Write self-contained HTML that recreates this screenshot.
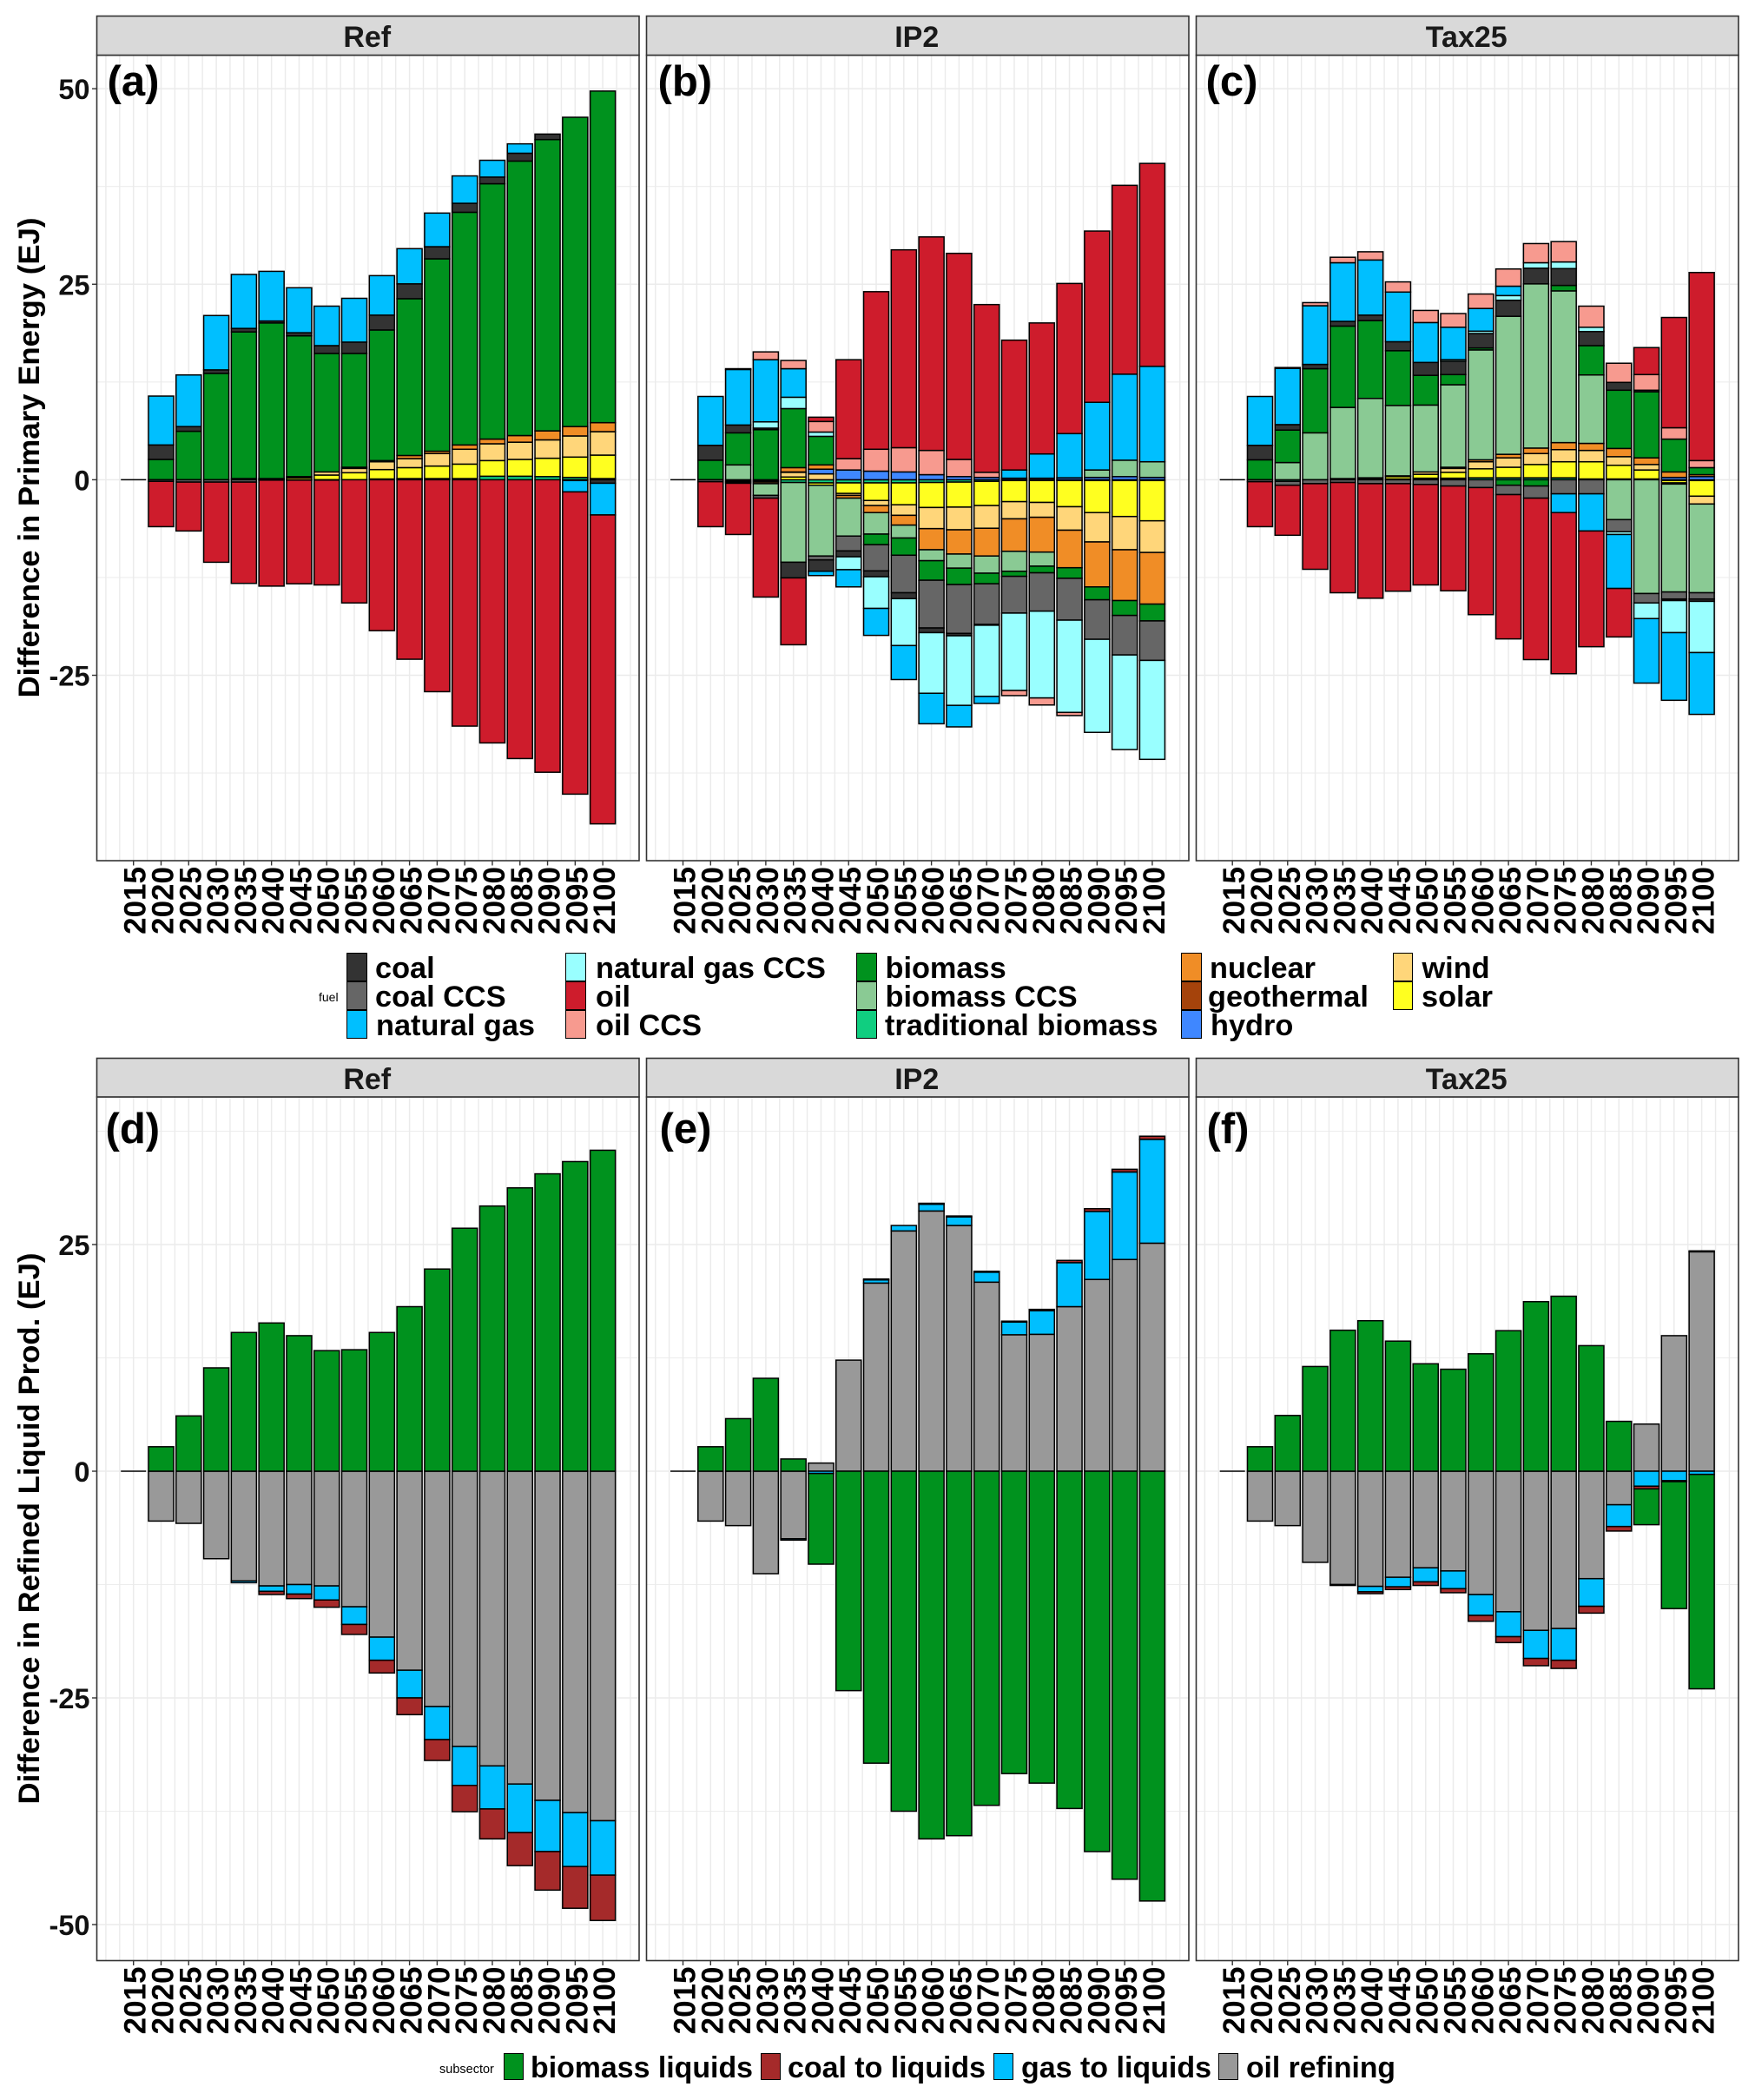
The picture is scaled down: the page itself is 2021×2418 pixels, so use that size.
<!DOCTYPE html>
<html lang="en">
<head>
<meta charset="utf-8">
<title>Difference in Primary Energy and Refined Liquid Production</title>
<style>
html,body{margin:0;padding:0;background:#fff;}
svg{display:block;font-family:"Liberation Sans",Arial,sans-serif;}
text{font-weight:700;fill:#000;}
</style>
</head>
<body>
<svg id="chart" xmlns="http://www.w3.org/2000/svg" width="2021" height="2418" viewBox="0 0 2021 2418">
<rect x="0" y="0" width="2021" height="2418" fill="#ffffff"/>
<g id="plots"></g>
<text transform="translate(45,527) rotate(-90)" text-anchor="middle" font-size="34" textLength="553" lengthAdjust="spacingAndGlyphs">Difference in Primary Energy (EJ)</text>
<text transform="translate(45,1760) rotate(-90)" text-anchor="middle" font-size="34" textLength="635" lengthAdjust="spacingAndGlyphs">Difference in Refined Liquid Prod. (EJ)</text>

<g>
<text x="367" y="1153" font-size="14" style="font-weight:400">fuel</text>
<g><rect x="399.5" y="1097.5" width="23" height="32" fill="#333333" stroke="#000" stroke-width="1"/><text x="432" y="1126" font-size="34.3">coal</text></g>
<g><rect x="399.5" y="1130.5" width="23" height="32" fill="#666666" stroke="#000" stroke-width="1"/><text x="432" y="1159" font-size="34.3">coal CCS</text></g>
<g><rect x="399.5" y="1163.5" width="23" height="32" fill="#00BFFF" stroke="#000" stroke-width="1"/><text x="433" y="1192" font-size="34.3">natural gas</text></g>
<g><rect x="651.5" y="1097.5" width="23" height="32" fill="#99FFFF" stroke="#000" stroke-width="1"/><text x="686" y="1126" font-size="34.3">natural gas CCS</text></g>
<g><rect x="651.5" y="1130.5" width="23" height="32" fill="#CE1C2C" stroke="#000" stroke-width="1"/><text x="686" y="1159" font-size="34.3">oil</text></g>
<g><rect x="651.5" y="1163.5" width="23" height="32" fill="#F79A8F" stroke="#000" stroke-width="1"/><text x="686" y="1192" font-size="34.3">oil CCS</text></g>
<g><rect x="986.5" y="1097.5" width="23" height="32" fill="#00921E" stroke="#000" stroke-width="1"/><text x="1019.5" y="1126" font-size="34.3">biomass</text></g>
<g><rect x="986.5" y="1130.5" width="23" height="32" fill="#8ACA94" stroke="#000" stroke-width="1"/><text x="1019.5" y="1159" font-size="34.3">biomass CCS</text></g>
<g><rect x="986.5" y="1163.5" width="23" height="32" fill="#10CE80" stroke="#000" stroke-width="1"/><text x="1019" y="1192" font-size="34.3">traditional biomass</text></g>
<g><rect x="1360.5" y="1097.5" width="23" height="32" fill="#F08D26" stroke="#000" stroke-width="1"/><text x="1393" y="1126" font-size="34.3">nuclear</text></g>
<g><rect x="1360.5" y="1130.5" width="23" height="32" fill="#A5430B" stroke="#000" stroke-width="1"/><text x="1391" y="1159" font-size="34.3">geothermal</text></g>
<g><rect x="1360.5" y="1163.5" width="23" height="32" fill="#3F87FF" stroke="#000" stroke-width="1"/><text x="1394" y="1192" font-size="34.3">hydro</text></g>
<g><rect x="1604.5" y="1097.5" width="22" height="32" fill="#FFD67A" stroke="#000" stroke-width="1"/><text x="1637.5" y="1126" font-size="34.3">wind</text></g>
<g><rect x="1604.5" y="1130.5" width="22" height="32" fill="#FFFF20" stroke="#000" stroke-width="1"/><text x="1637" y="1159" font-size="34.3">solar</text></g>
</g>

<g>
<text x="506" y="2387" font-size="14.5" style="font-weight:400">subsector</text>
<g><rect x="580.5" y="2364.5" width="22" height="30" fill="#00921E" stroke="#000" stroke-width="1"/><text x="611" y="2392" font-size="34" textLength="256" lengthAdjust="spacingAndGlyphs">biomass liquids</text></g>
<g><rect x="876.5" y="2364.5" width="22" height="30" fill="#A52A2A" stroke="#000" stroke-width="1"/><text x="907" y="2392" font-size="34" textLength="228" lengthAdjust="spacingAndGlyphs">coal to liquids</text></g>
<g><rect x="1144.5" y="2364.5" width="22" height="30" fill="#00BFFF" stroke="#000" stroke-width="1"/><text x="1176" y="2392" font-size="34" textLength="219" lengthAdjust="spacingAndGlyphs">gas to liquids</text></g>
<g><rect x="1403.5" y="2364.5" width="22" height="30" fill="#999999" stroke="#000" stroke-width="1"/><text x="1435" y="2392" font-size="34" textLength="172" lengthAdjust="spacingAndGlyphs">oil refining</text></g>
</g>
</svg>

<script>
// Categories and tick labels
const years = [2015,2020,2025,2030,2035,2040,2045,2050,2055,2060,2065,2070,2075,2080,2085,2090,2095,2100];
const topTicks = [50,25,0,-25];
const topMinorTicks = [37.5,12.5,-12.5,-37.5];
const bottomTicks = [25,0,-25,-50];
const bottomMinorTicks = [37.5,12.5,-12.5,-37.5];

// (a) Ref primary energy, EJ: one value per year in `years`
const refTrad =    [0,0,0,0,0,0,0,0,0,.1,.15,.15,.15,.45,.45,.4,.3,.15];
const refSolar =   [0,0,0,0,.15,.1,.25,.6,.9,1.2,1.4,1.6,1.85,2,2.15,2.35,2.6,3];
const refWind =    [0,0,0,0,0,.05,.15,.4,.55,1,1.15,1.6,1.9,2.15,2.2,2.35,2.7,3];
const refNuclear = [0,0,0,0,0,0,0,0,.15,.15,.4,.3,.55,.6,.85,1.15,1.2,1.15];
const refBiomass = [0,2.6,6.2,13.6,18.75,19.9,18,15.15,14.55,16.7,20.05,24.6,29.75,32.65,35.1,37.25,39.55,42.4];
const refCoalCcs = [0,-.2,-.3,-.3,-.3,-.05,-.05,-.05,0,0,0,0,0,0,0,0,-.1,0];
const refCoal =    [0,1.85,.6,.45,.45,.25,.4,1,1.45,1.9,1.9,1.55,1.15,.85,1,.7,0,-.45];
const refGas =     [0,6.25,6.6,6.95,6.9,6.35,5.75,5.05,5.6,5.05,4.5,4.3,3.5,2.15,1.2,0,-1.45,-4.05];
const refOil =     [0,-5.8,-6.25,-10.25,-12.95,-13.55,-13.25,-13.4,-15.75,-19.3,-22.95,-27.1,-31.5,-33.65,-35.65,-37.4,-38.65,-39.5];

// (b) IP2 primary energy, EJ
const ip2Trad =    [0,0,-.15,-.1,-.35,-.4,-.4,-.4,-.4,-.35,-.3,-.2,-.1,-.1,-.1,-.1,-.1,-.1];
const ip2Solar =   [0,0,-.1,-.1,.35,-.3,-1.35,-2.25,-2.8,-3.2,-3.2,-3.1,-2.7,-2.8,-3.35,-4.1,-4.6,-5.15];
const ip2Wind =    [0,0,-.1,-.1,.6,.75,-.25,-.65,-1.35,-2.7,-2.9,-2.9,-2.2,-1.9,-3,-3.75,-4.25,-4.05];
const ip2Hydro =   [0,0,0,0,.05,.6,1.25,1.1,1,.65,.4,.3,.2,.2,.25,.3,.4,.3];
const ip2Nuclear = [0,0,0,-.2,.55,.55,-.35,-.9,-1.25,-2.7,-3.1,-3.55,-4.15,-4.45,-4.8,-5.75,-6.5,-6.6];
const ip2BioCcs =  [0,0,1.9,-1.5,-10.2,-9.05,-4.85,-2.75,-1.65,-1.4,-1.8,-2.2,-2.55,-1.8,0,.95,2.1,2];
const ip2Biomass = [0,2.5,4.1,6.4,7.55,3.65,0,-1.35,-2.2,-2.5,-2.1,-1.35,-.65,-.85,-1.35,-1.65,-1.9,-2.15];
const ip2CoalCcs = [0,-.25,-.1,-.35,0,-.5,-1.9,-3.35,-4.8,-6.1,-6.25,-5.2,-4.7,-4.9,-5.35,-5.05,-5.05,-5.05];
const ip2Coal =    [0,1.9,1,.2,-2,-1.45,-.75,-.75,-.75,-.6,-.3,-.1,0,0,0,0,0,0];
const ip2GasCcs =  [0,0,0,.8,1.45,.55,-1.65,-4.05,-6,-7.75,-8.9,-9.1,-9.9,-11.1,-11.8,-11.9,-12.1,-12.65];
const ip2Gas =     [0,6.25,7.1,7.95,3.65,-.55,-2.2,-3.45,-4.35,-3.9,-2.75,-.9,1.05,3.1,5.65,8.65,11,12.2];
const ip2OilCcs =  [0,0,.1,1,1.05,1.35,1.45,2.8,3.1,3.1,2.2,.65,-.65,-.9,-.4,0,0,0];
const ip2Oil =     [0,-5.75,-6.55,-12.65,-8.55,.55,12.65,20.15,25.3,27.3,26.35,21.45,16.6,16.75,19.2,21.9,24.15,25.95];

// (c) Tax25 primary energy, EJ
const taxTrad =    [0,0,-.2,0,.15,.1,.1,.2,.2,.25,.25,.25,.25,.1,.1,.1,-.1,-.1];
const taxSolar =   [0,0,0,0,0,.15,.3,.5,.75,1.15,1.35,1.7,2.05,2.2,1.75,1.15,-.3,-2];
const taxWind =    [0,0,0,0,0,0,.1,.3,.5,.9,1.2,1.4,1.55,1.45,1.1,.7,-.15,-1];
const taxHydro =   [0,0,0,0,0,0,0,0,0,0,0,0,0,0,0,0,.3,.4];
const taxNuclear = [0,0,0,0,0,0,0,0,.15,.25,.45,.7,.9,.9,1.05,.85,.7,.25];
const taxBioCcs =  [0,0,2.2,6,9.1,10.15,9,8.55,10.55,14.05,17.65,21,19.4,8.75,-5.1,-14.55,-13.8,-11.35];
const taxBiomass = [0,2.55,4.15,8.2,10.4,9.95,7,3.8,1.3,.25,-.7,-.8,.7,3.75,7.45,8.45,4.2,.9];
const taxCoalCcs = [0,-.25,-.5,-.5,-.35,-.5,-.5,-.6,-.8,-1,-1.2,-1.55,-1.8,-1.8,-1.55,-1.2,-.9,-.8];
const taxCoal =    [0,1.85,.7,.55,.6,.7,1.15,1.65,1.7,1.85,2.05,2,2.15,1.8,1,.2,-.2,-.3];
const taxGasCcs =  [0,0,0,0,0,0,0,0,.2,.3,.6,.7,.85,.55,-.35,-2,-4.1,-6.55];
const taxGas =     [0,6.25,7.2,7.5,7.5,7.05,6.35,5.1,4.15,2.9,1.2,0,-2.4,-4.75,-6.9,-8.25,-8.65,-7.9];
const taxOilCcs =  [0,0,.1,.4,.7,1.05,1.3,1.55,1.75,1.85,2.2,2.45,2.6,2.7,2.45,2,1.45,.9];
const taxOil =     [0,-5.75,-6.4,-10.95,-14.1,-14.65,-13.75,-12.85,-13.4,-16.25,-18.45,-20.65,-20.6,-14.8,-6.2,3.45,14.1,24.05];

// (d) Ref refined liquids, EJ
const refLiqRefining = [0,-5.5,-5.75,-9.65,-12.1,-12.65,-12.5,-12.65,-14.95,-18.3,-21.95,-25.95,-30.35,-32.5,-34.5,-36.3,-37.65,-38.55];
const refLiqGas =      [0,0,0,0,-.2,-.6,-1.05,-1.55,-1.95,-2.55,-3.05,-3.65,-4.3,-4.75,-5.35,-5.65,-5.95,-6];
const refLiqCoal =     [0,0,0,0,0,-.35,-.5,-.8,-1.1,-1.4,-1.85,-2.3,-2.9,-3.3,-3.65,-4.25,-4.6,-5];
const refLiqBiomass =  [0,2.7,6.1,11.4,15.3,16.35,14.95,13.3,13.4,15.3,18.15,22.3,26.8,29.25,31.25,32.8,34.15,35.4];

// (e) IP2 refined liquids, EJ
const ip2LiqRefining = [0,-5.5,-6,-11.3,-7.45,.9,12.25,20.75,26.5,28.7,27.1,20.85,15.05,15.1,18.15,21.15,23.35,25.15];
const ip2LiqGas =      [0,0,0,0,-.15,-.25,0,.35,.6,.75,.95,1.1,1.4,2.6,4.85,7.5,9.65,11.45];
const ip2LiqCoal =     [0,0,0,0,0,0,0,.1,0,.1,.1,.1,.1,.15,.25,.3,.3,.35];
const ip2LiqBiomass =  [0,2.7,5.8,10.25,1.35,-10,-24.2,-32.2,-37.5,-40.55,-40.2,-36.85,-33.35,-34.4,-37.2,-41.95,-45,-47.4];

// (f) Tax25 refined liquids, EJ
const taxLiqRefining = [0,-5.5,-6,-10.05,-12.5,-12.7,-11.7,-10.65,-11,-13.6,-15.5,-17.55,-17.35,-11.85,-3.7,5.2,14.95,24.2];
const taxLiqGas =      [0,0,0,0,-.1,-.6,-1.05,-1.55,-1.95,-2.3,-2.75,-3.1,-3.5,-3.05,-2.4,-1.65,-1.05,-.35];
const taxLiqCoal =     [0,0,0,0,0,-.2,-.3,-.4,-.45,-.65,-.65,-.8,-.9,-.75,-.5,-.3,-.1,.1];
const taxLiqBiomass =  [0,2.7,6.15,11.55,15.55,16.6,14.35,11.85,11.25,12.95,15.5,18.7,19.3,13.85,5.5,-3.95,-14,-23.65];

// Series names in stacking order, from zero outward
const fuelNames = ['traditional biomass','solar','wind','hydro','nuclear','biomass CCS','biomass','coal CCS','coal','natural gas CCS','natural gas','oil CCS','oil'];
const fuelColors = ['#10CE80','#FFFF20','#FFD67A','#3F87FF','#F08D26','#8ACA94','#00921E','#666666','#333333','#99FFFF','#00BFFF','#F79A8F','#CE1C2C'];
const empty = years.map(function(){return 0;});
const refPrimary = [refTrad,refSolar,refWind,empty,refNuclear,empty,refBiomass,refCoalCcs,refCoal,empty,refGas,empty,refOil];
const ip2Primary = [ip2Trad,ip2Solar,ip2Wind,ip2Hydro,ip2Nuclear,ip2BioCcs,ip2Biomass,ip2CoalCcs,ip2Coal,ip2GasCcs,ip2Gas,ip2OilCcs,ip2Oil];
const taxPrimary = [taxTrad,taxSolar,taxWind,taxHydro,taxNuclear,taxBioCcs,taxBiomass,taxCoalCcs,taxCoal,taxGasCcs,taxGas,taxOilCcs,taxOil];

const liquidNames = ['oil refining','gas to liquids','coal to liquids','biomass liquids'];
const liquidColors = ['#999999','#00BFFF','#A52A2A','#00921E'];
const refLiquids = [refLiqRefining,refLiqGas,refLiqCoal,refLiqBiomass];
const ip2Liquids = [ip2LiqRefining,ip2LiqGas,ip2LiqCoal,ip2LiqBiomass];
const taxLiquids = [taxLiqRefining,taxLiqGas,taxLiqCoal,taxLiqBiomass];

const SVGNS = 'http://www.w3.org/2000/svg';
const root = document.getElementById('plots');
const STEP = 31.79;
const BAR_W = 29;
const PANEL_W = 624.5;
const panelLefts = [111.5,744.5,1377.5];
const firstYearX = [153.7,786.5,1419.2];

function xScale(col, year){ return firstYearX[col] + (year - 2015) / 5 * STEP; }
function yTopScale(v){ return 552.4 - v * 9.005; }
function yBottomScale(v){ return 1694 - v * 10.44; }

function make(tag, attrs, parent){
  const el = document.createElementNS(SVGNS, tag);
  for (const k in attrs) el.setAttribute(k, attrs[k]);
  parent.appendChild(el);
  return el;
}
function slug(s){ return String(s).toLowerCase().replace(/[^a-z0-9]+/g,'-'); }

function drawPanel(cfg){
  const col = cfg.col;
  const L = panelLefts[col], R = L + PANEL_W;
  const g = make('g', {}, root);
  
  

  const bg = make('rect', {x:L, y:cfg.top, width:PANEL_W, height:cfg.bottom-cfg.top, fill:'#fff'}, g);
  
  

  // gridlines
  cfg.minorTicks.forEach(function(v){
    const gl = make('line', {x1:L, x2:R, y1:cfg.y(v), y2:cfg.y(v), stroke:'#EDEDED', 'stroke-width':1.1}, g);
    
    
  });
  cfg.ticks.forEach(function(v){
    const gl = make('line', {x1:L, x2:R, y1:cfg.y(v), y2:cfg.y(v), stroke:'#EBEBEB', 'stroke-width':1.5}, g);
    
    
  });
  for (let yr = 2010; yr <= 2105; yr += 2.5) {
    const major = yr >= 2015 && yr <= 2100 && yr % 5 === 0;
    const gl = make('line', {x1:xScale(col,yr), x2:xScale(col,yr), y1:cfg.top, y2:cfg.bottom, stroke:'#EBEBEB', 'stroke-width':major ? 1.5 : 1.4}, g);
    
    
  }

  // stacked bars
  years.forEach(function(year, i){
    const x = xScale(col, year) - BAR_W / 2;
    let pos = 0, neg = 0, any = false;
    const barGroup = make('g', {}, g);
    
    
    cfg.series.forEach(function(values, s){
      const v = values[i];
      if (!v) return;
      any = true;
      let from, to;
      if (v > 0) { from = pos; to = pos + v; pos = to; }
      else { from = neg; to = neg + v; neg = to; }
      const y1 = cfg.y(from), y2 = cfg.y(to);
      const r = make('rect', {x:x, y:Math.min(y1,y2), width:BAR_W, height:Math.abs(y2-y1), fill:cfg.colors[s], stroke:'#000', 'stroke-width':1.5}, barGroup);
      
      
    });
    if (!any) {
      const z = make('line', {x1:x, x2:x+BAR_W, y1:cfg.y(0), y2:cfg.y(0), stroke:'#000', 'stroke-width':1.5}, barGroup);
      
      
    }
  });

  // panel border
  const border = make('rect', {x:L, y:cfg.top, width:PANEL_W, height:cfg.bottom-cfg.top, fill:'none', stroke:'#333333', 'stroke-width':1.6}, g);
  
  

  // strip
  const strip = make('rect', {x:L, y:cfg.stripTop, width:PANEL_W, height:cfg.top-cfg.stripTop, fill:'#D9D9D9', stroke:'#333333', 'stroke-width':1.6}, g);
  
  
  const stripText = make('text', {x:L+PANEL_W/2-1, y:cfg.stripTop+35.5, 'text-anchor':'middle', 'font-size':34, style:'fill:#1a1a1a'}, g);
  stripText.textContent = cfg.title;
  
  

  // panel letter
  const lab = make('text', {x:cfg.letterX, y:cfg.letterY, 'font-size':49}, g);
  lab.textContent = '(' + cfg.letter + ')';
  
  

  // x axis
  years.forEach(function(year){
    const x = xScale(col, year);
    const t = make('line', {x1:x, x2:x, y1:cfg.bottom, y2:cfg.bottom+5.5, stroke:'#333333', 'stroke-width':1.4}, g);
    
    
    const tl = make('text', {transform:'translate(' + (x+14) + ',' + (cfg.bottom+7) + ') rotate(-90)', 'text-anchor':'end', 'font-size':35}, g);
    tl.textContent = year;
    
    
  });

  // y axis on the leftmost panel
  if (col === 0) {
    cfg.ticks.forEach(function(v){
      const y = cfg.y(v);
      const t = make('line', {x1:L-5.5, x2:L, y1:y, y2:y, stroke:'#333333', 'stroke-width':1.4}, g);
      
      
      const tl = make('text', {x:L-8, y:y+12, 'text-anchor':'end', 'font-size':32.5, style:'fill:#111'}, g);
      tl.textContent = v;
      
      
    });
  }
}

const topRow = {y:yTopScale, ticks:topTicks, minorTicks:topMinorTicks, stripTop:18.5, top:63.5, bottom:991, names:fuelNames, colors:fuelColors};
const bottomRow = {y:yBottomScale, ticks:bottomTicks, minorTicks:bottomMinorTicks, stripTop:1218.5, top:1263, bottom:2257.5, names:liquidNames, colors:liquidColors};

drawPanel(Object.assign({}, topRow, {col:0, letter:'a', title:'Ref', series:refPrimary, letterX:123.5, letterY:110}));
drawPanel(Object.assign({}, topRow, {col:1, letter:'b', title:'IP2', series:ip2Primary, letterX:757.5, letterY:110}));
drawPanel(Object.assign({}, topRow, {col:2, letter:'c', title:'Tax25', series:taxPrimary, letterX:1388.5, letterY:110}));
drawPanel(Object.assign({}, bottomRow, {col:0, letter:'d', title:'Ref', series:refLiquids, letterX:121.5, letterY:1316}));
drawPanel(Object.assign({}, bottomRow, {col:1, letter:'e', title:'IP2', series:ip2Liquids, letterX:759.5, letterY:1316}));
drawPanel(Object.assign({}, bottomRow, {col:2, letter:'f', title:'Tax25', series:taxLiquids, letterX:1389.5, letterY:1316}));
</script>
</body>
</html>
